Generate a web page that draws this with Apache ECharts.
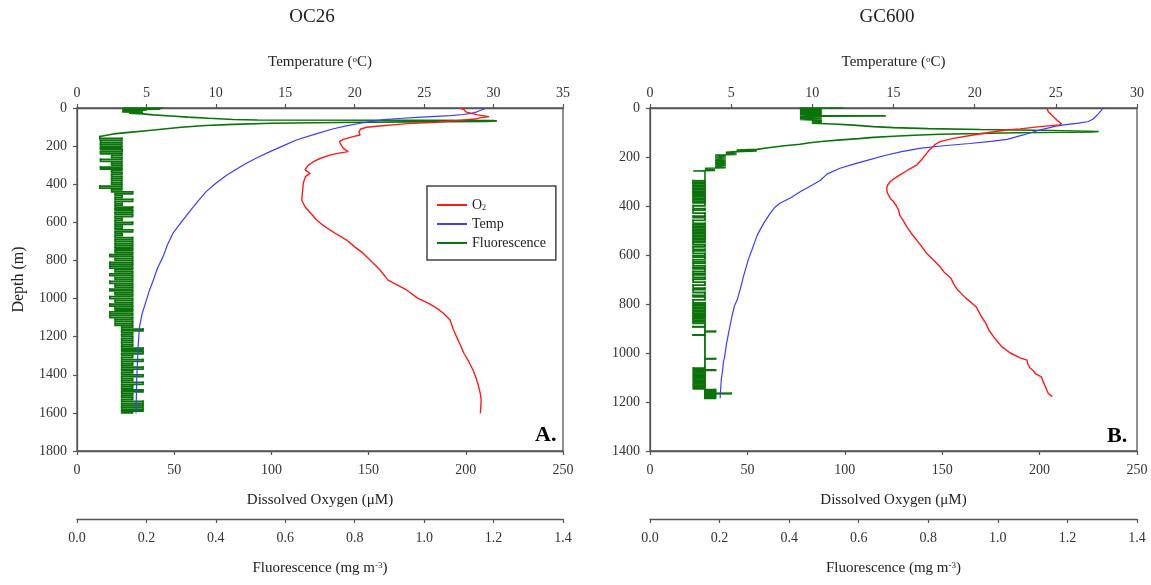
<!DOCTYPE html>
<html>
<head>
<meta charset="utf-8">
<script src="https://cdn.jsdelivr.net/npm/echarts/dist/echarts.min.js"></script>
<style>html,body{margin:0;padding:0;background:#fff}#c{width:1151px;height:585px}</style>
</head>
<body>
<div id="c"></div>
<script>
// ---------- DATA (each point = [depth (m), value]) ----------
const panelTitles = ['OC26', 'GC600'];
const panelTags = ['A.', 'B.'];
const depthMax = [1800, 1400];
const tempMax = [35, 30];
const o2Max = 250;
const fluorMax = 1.4;

const oc26Temp = [[0,29.5],[9,29.4],[20,28.8],[28,28.4],[34,27.8],[40,26.9],[49,24.5],[55,23.2],[61,22.1],[70,21.2],[80,20.4],[95,19.3],[110,18.4],[136,17.2],[168,15.8],[200,14.8],[229,13.9],[260,13.0],[290,12.2],[320,11.5],[352,10.8],[395,10.0],[439,9.3],[490,8.7],[544,8.1],[600,7.5],[658,6.9],[720,6.5],[780,6.2],[840,5.8],[903,5.5],[960,5.2],[1008,5.0],[1077,4.7],[1148,4.5],[1253,4.4],[1427,4.3],[1602,4.25]];

const oc26O2 = [[0,197],[8,199],[15,198],[20,200],[28,201],[36,206],[45,212],[52,207],[58,205],[66,195],[75,185],[82,170],[87,164],[93,157],[101,149],[110,146],[125,145],[142,145.6],[150,142],[165,137],[177,135],[195,136],[212,137],[229,139.5],[238,134],[247,130],[265,125],[282,121.6],[300,119],[325,117.3],[343,119.9],[360,117.5],[395,116.4],[440,116],[483,115.6],[518,117.3],[550,120],[588,123.3],[615,126.5],[640,130.1],[665,134],[693,138.7],[730,143],[763,147.3],[800,151],[850,155.9],[903,160],[955,169.5],[998,175.2],[1025,180.9],[1050,185],[1077,188.5],[1113,191.9],[1160,193.5],[1200,195.2],[1250,197.5],[1287,199],[1330,201.5],[1375,203.7],[1420,205.4],[1462,206.6],[1500,207.5],[1532,207.9],[1570,207.7],[1602,207.5]];

// fluorescence, surface layer and chlorophyll peak (0-150 m)
const oc26FluorUpper = [[0,0.13],[0,0.25],[3,0.13],[6,0.24],[9,0.13],[12,0.2],[15,0.13],[18,0.19],[21,0.13],[24,0.19],[27,0.15],[31,0.19],[36,0.22],[42,0.27],[48,0.32],[54,0.38],[60,0.45],[63,0.52],[64,1.0],[66,1.2],[68,1.21],[70,1.18],[73,0.95],[76,0.75],[80,0.56],[86,0.45],[92,0.37],[101,0.30],[110,0.25],[119,0.20],[128,0.15],[136,0.105],[145,0.1],[150,0.066]];
// fluorescence, deep readings (150-1600 m)
const oc26FluorDeep = [[150,0.066],
[160,0.129],[170,0.068],[180,0.129],[190,0.068],[200,0.129],[210,0.068],[220,0.13],[230,0.068],[240,0.129],[250,0.1],[260,0.129],[270,0.068],[280,0.129],[290,0.1],[300,0.129],[310,0.068],[320,0.129],[330,0.1],[340,0.129],[350,0.1],[360,0.129],[370,0.1],[380,0.129],[390,0.1],[400,0.129],[410,0.066],[420,0.129],[430,0.1],
[440,0.16],[450,0.11],[460,0.13],[470,0.11],[480,0.16],[490,0.11],[500,0.13],[510,0.11],[520,0.16],[530,0.11],[540,0.16],[550,0.11],[560,0.16],[570,0.11],[580,0.13],[590,0.11],[600,0.16],[610,0.11],[620,0.13],[630,0.11],[640,0.16],[650,0.11],[660,0.13],[670,0.11],[680,0.16],[690,0.11],[700,0.16],[710,0.11],[720,0.16],[730,0.11],[740,0.16],[750,0.11],[760,0.16],[770,0.095],[780,0.16],[790,0.11],[800,0.16],[810,0.095],[820,0.16],[830,0.095],[840,0.16],[850,0.11],[860,0.16],[870,0.095],[880,0.16],[890,0.11],[900,0.16],[910,0.095],[920,0.16],[930,0.11],[940,0.16],[950,0.095],[960,0.16],[970,0.11],[980,0.16],[990,0.095],[1000,0.16],[1010,0.11],[1020,0.16],[1030,0.095],[1040,0.16],[1050,0.11],[1060,0.16],[1070,0.095],[1080,0.16],[1090,0.095],[1100,0.16],[1110,0.11],[1120,0.16],[1130,0.11],[1140,0.16],
[1150,0.129],[1160,0.19],[1170,0.129],[1180,0.16],[1190,0.129],[1200,0.16],[1210,0.129],[1220,0.16],[1230,0.129],[1240,0.16],[1250,0.129],[1260,0.19],[1270,0.129],[1280,0.19],[1290,0.129],[1300,0.16],[1310,0.129],[1320,0.19],[1330,0.129],[1340,0.16],[1350,0.129],[1360,0.19],[1370,0.129],[1380,0.16],[1390,0.129],[1400,0.19],[1410,0.129],[1420,0.16],[1430,0.129],[1440,0.19],[1450,0.129],[1460,0.16],[1470,0.129],[1480,0.19],[1490,0.129],[1500,0.16],[1510,0.129],[1520,0.16],[1530,0.129],[1540,0.19],[1550,0.129],[1560,0.19],[1570,0.129],[1580,0.19],[1590,0.129],[1600,0.16]];

const gc600Temp = [[0,27.9],[10,27.8],[25,27.6],[45,27.3],[55,27.0],[62,26.4],[68,25.6],[74,25.0],[82,24.5],[90,24.0],[110,23.0],[128,22.0],[136,21.0],[145,19.7],[155,17.9],[165,16.6],[178,15.5],[195,14.4],[210,13.6],[228,12.6],[246,11.7],[270,10.9],[295,10.5],[314,10.0],[340,9.3],[365,8.7],[389,8.0],[405,7.7],[430,7.4],[471,7.0],[520,6.6],[566,6.35],[620,6.05],[689,5.75],[729,5.6],[784,5.37],[806,5.21],[850,5.05],[906,4.88],[960,4.72],[1022,4.58],[1035,4.52],[1056,4.5],[1110,4.39],[1150,4.35],[1185,4.32]];

const gc600O2 = [[0,203.6],[15,204.5],[29,206.2],[49,208.8],[65,211.3],[69,210],[74,203],[79,196.8],[85,190],[90,183.1],[100,174],[110,166],[124,155.7],[137,148.9],[148,146.5],[158,145.4],[170,143.5],[185,142],[210,139.5],[233,136.9],[255,132],[273,128.3],[290,125],[301,123.2],[315,122],[328,121.5],[345,121.8],[355,122.4],[370,123.5],[382,125],[400,126.5],[416,127.6],[437,128.2],[460,130],[484,131.8],[510,134],[539,136.9],[566,139.5],[593,142],[620,145.5],[648,148.9],[670,151],[695,154.5],[720,156],[743,158],[775,162],[811,167.4],[850,170],[880,172.5],[906,173.9],[940,177],[974,180.5],[1000,185],[1020,190],[1029,193.5],[1045,194],[1060,195],[1069,196.3],[1085,198],[1097,200.9],[1120,202],[1151,203.7],[1165,204.5],[1178,206.5]];

// fluorescence, surface layer and chlorophyll peak (0-297 m)
const gc600FluorUpper = [[0,0.431],[0,0.556],[2,0.431],[4,0.494],[7,0.431],[10,0.494],[13,0.431],[16,0.494],[19,0.431],[22,0.494],[25,0.431],[28,0.494],[31,0.431],[32,0.678],[33,0.494],[36,0.431],[39,0.494],[42,0.431],[45,0.494],[47,0.431],[49,0.465],[52,0.494],[55,0.465],[58,0.494],[62,0.465],[65,0.527],[70,0.585],[76,0.642],[80,0.70],[84,0.80],[88,0.95],[92,1.15],[96,1.29],[98,1.27],[101,1.05],[104,0.95],[107,0.834],[111,0.76],[115,0.70],[120,0.642],[125,0.6],[130,0.55],[136,0.5],[142,0.46],[148,0.431],[155,0.38],[162,0.34],[169,0.307],[172,0.249],[175,0.307],[178,0.249],[181,0.218],[184,0.249],[187,0.218],[190,0.249],[192,0.187],[196,0.218],[200,0.187],[204,0.218],[208,0.187],[212,0.218],[216,0.187],[220,0.218],[224,0.187],[228,0.218],[232,0.187],[236,0.218],[240,0.187],[244,0.218],[246,0.158],[249,0.187],[252,0.158],[255,0.187],[257,0.124],[257,0.158],[297,0.158]];
// fluorescence, deep readings (297-1185 m)
const gc600FluorDeep = [[297,0.158],
[297,0.124],[303,0.158],[309,0.124],[315,0.158],[321,0.124],[327,0.158],[333,0.124],[339,0.158],[345,0.124],[351,0.158],[357,0.124],[363,0.158],[369,0.124],[375,0.158],[381,0.124],[387,0.158],
[399,0.124],[411,0.158],[417,0.124],[429,0.158],[441,0.124],[447,0.158],[459,0.124],[471,0.158],
[477,0.124],[483,0.158],[489,0.124],[495,0.158],[501,0.124],[507,0.158],[513,0.124],[519,0.158],[525,0.124],[531,0.158],[537,0.124],[543,0.158],[549,0.124],
[559,0.158],[567,0.124],[577,0.158],[583,0.124],[593,0.158],[603,0.124],[609,0.158],[619,0.124],[627,0.158],[633,0.124],[643,0.158],[651,0.124],[657,0.158],[667,0.124],[675,0.158],[681,0.124],[691,0.158],[699,0.124],
[711,0.158],[723,0.124],[735,0.158],[741,0.124],[753,0.158],[765,0.124],[771,0.158],[783,0.124],[795,0.158],
[801,0.124],[807,0.158],[813,0.124],[819,0.158],[825,0.124],[831,0.158],[837,0.124],[843,0.158],[849,0.124],[855,0.158],[861,0.124],[867,0.158],[873,0.124],[879,0.158],
[891,0.158],[892,0.124],[893,0.158],[911,0.158],[912,0.188],[913,0.158],[925,0.158],[926,0.124],[927,0.158],[1022,0.158],[1023,0.188],[1024,0.158],[1060,0.158],
[1062,0.125],[1067,0.158],[1069,0.188],[1071,0.125],[1076,0.158],[1081,0.125],[1086,0.158],[1091,0.125],[1096,0.158],[1101,0.125],[1106,0.158],[1111,0.125],[1116,0.158],[1121,0.125],[1126,0.158],[1131,0.125],[1136,0.158],[1141,0.125],[1146,0.158],
[1150,0.188],[1154,0.158],[1158,0.188],[1162,0.158],[1165,0.233],[1166,0.158],[1170,0.188],[1174,0.158],[1178,0.188],[1182,0.158],[1185,0.188]];

// ---------- STYLE ----------
const FONT = '"Liberation Serif","Times New Roman",serif';
const AXIS = '#555';
const TEXT = '#222';
const RED = '#ff1a1a', BLUE = '#3c3cff', GREEN = '#0a730a';

const grids = [
  {left: 77, top: 108, width: 486, height: 343},
  {left: 650, top: 108, width: 487, height: 343}
];

function labelStyle(margin, formatter) {
  return {fontFamily: FONT, fontSize: 14, color: '#333', margin: margin, formatter: formatter || (v => String(v))};
}

function baseAxis(extra) {
  return Object.assign({
    type: 'value',
    axisLine: {show: true, onZero: false, lineStyle: {color: AXIS, width: 1.3}},
    axisTick: {show: true, length: 4, lineStyle: {color: AXIS, width: 1.2}},
    splitLine: {show: false},
    nameLocation: 'middle',
    nameTextStyle: {fontFamily: FONT, fontSize: 15, color: TEXT,
      rich: {sup: {fontFamily: FONT, fontSize: 9, color: TEXT, verticalAlign: 'top'}}}
  }, extra);
}

const xAxes = [], yAxes = [], series = [];
const tempSets = [oc26Temp, gc600Temp], o2Sets = [oc26O2, gc600O2];
const fluorUpperSets = [oc26FluorUpper, gc600FluorUpper], fluorDeepSets = [oc26FluorDeep, gc600FluorDeep];

// [depth, value] -> ECharts [value, depth]
function toXY(arr) { return arr.map(p => [p[1], p[0]]); }
// consecutive readings of a profile: [prevValue, prevDepth, value, depth]
function toSteps(arr) {
  const out = [];
  for (let i = 1; i < arr.length; i++) out.push([arr[i - 1][1], arr[i - 1][0], arr[i][1], arr[i][0]]);
  return out;
}
// each deep reading is held down to the next recorded depth (step profile)
function renderStep(params, api) {
  const p0 = api.coord([api.value(0), api.value(1)]);
  const pc = api.coord([api.value(0), api.value(3)]);
  const p1 = api.coord([api.value(2), api.value(3)]);
  return {type: 'polyline', shape: {points: [p0, pc, p1]},
    style: {stroke: GREEN, lineWidth: 1.8, fill: null, lineCap: 'square', lineJoin: 'miter'}};
}

for (let g = 0; g < 2; g++) {
  const base = xAxes.length;
  xAxes.push(baseAxis({gridIndex: g, position: 'top', min: 0, max: tempMax[g], interval: 5,
    name: 'Temperature ({sup|o}C)', nameGap: 38, axisLabel: labelStyle(8)}));
  xAxes.push(baseAxis({gridIndex: g, position: 'bottom', min: 0, max: o2Max, interval: 50,
    name: 'Dissolved Oxygen (\u03bcM)', nameGap: 42, axisLabel: labelStyle(12)}));
  xAxes.push(baseAxis({gridIndex: g, position: 'bottom', offset: 68, min: 0, max: fluorMax, interval: 0.2,
    name: 'Fluorescence (mg m{sup|-3})', nameGap: 42, axisLabel: labelStyle(12, v => v.toFixed(1))}));
  const y = baseAxis({gridIndex: g, position: 'left', inverse: true, min: 0, max: depthMax[g], interval: 200,
    name: g === 0 ? 'Depth (m)' : '', nameGap: 50, nameRotate: 90, axisLabel: labelStyle(10)});
  y.nameTextStyle = Object.assign({}, y.nameTextStyle, {fontSize: 16});
  yAxes.push(y);

  const common = {type: 'line', yAxisIndex: g, symbol: 'none', showSymbol: false, silent: true, animation: false, clip: true};
  series.push({type: 'custom', name: 'Fluorescence', xAxisIndex: base + 2, yAxisIndex: g,
    data: toSteps(fluorDeepSets[g]), encode: {x: [0, 2], y: [1, 3]}, renderItem: renderStep,
    itemStyle: {color: GREEN}, silent: true, animation: false, clip: true});
  series.push(Object.assign({}, common, {name: 'Fluorescence', xAxisIndex: base + 2,
    data: toXY(fluorUpperSets[g]), lineStyle: {color: GREEN, width: 1.6}, itemStyle: {color: GREEN}}));
  series.push(Object.assign({}, common, {name: 'Temp', xAxisIndex: base,
    data: toXY(tempSets[g]), lineStyle: {color: BLUE, width: 1.2}, itemStyle: {color: BLUE}}));
  series.push(Object.assign({}, common, {name: 'O2', xAxisIndex: base + 1,
    data: toXY(o2Sets[g]), lineStyle: {color: RED, width: 1.4}, itemStyle: {color: RED}}));
}

const chart = echarts.init(document.getElementById('c'), null, {renderer: 'canvas'});
chart.setOption({
  animation: false,
  backgroundColor: '#fff',
  title: [
    {text: panelTitles[0], left: 312, top: 8, textAlign: 'center', padding: 0,
      textStyle: {fontFamily: FONT, fontSize: 19, fontWeight: 'normal', color: TEXT}},
    {text: panelTitles[1], left: 887, top: 8, textAlign: 'center', padding: 0,
      textStyle: {fontFamily: FONT, fontSize: 19, fontWeight: 'normal', color: TEXT}}
  ],
  grid: grids.map(gr => Object.assign({show: true, borderColor: AXIS, borderWidth: 1.3, backgroundColor: 'transparent', containLabel: false}, gr)),
  legend: {
    left: 427, top: 186, orient: 'vertical', icon: 'rect', itemWidth: 30, itemHeight: 2, itemGap: 5,
    padding: [12, 10, 10, 10], borderColor: '#444', borderWidth: 1.5, borderRadius: 0,
    selectedMode: false,
    data: [{name: 'O2', itemStyle: {color: RED}}, {name: 'Temp', itemStyle: {color: BLUE}}, {name: 'Fluorescence', itemStyle: {color: GREEN}}],
    formatter: n => n === 'O2' ? 'O{sub|2}' : n,
    textStyle: {fontFamily: FONT, fontSize: 14, lineHeight: 14, color: TEXT,
      rich: {sub: {fontFamily: FONT, fontSize: 8, lineHeight: 14, color: TEXT, verticalAlign: 'bottom'}}}
  },
  xAxis: xAxes,
  yAxis: yAxes,
  series: series,
  graphic: [
    {type: 'text', left: 535, top: 424, style: {text: panelTags[0], font: 'bold 22px ' + FONT, fill: '#000'}},
    {type: 'text', left: 1107, top: 425, style: {text: panelTags[1], font: 'bold 22px ' + FONT, fill: '#000'}}
  ]
});
</script>
</body>
</html>
